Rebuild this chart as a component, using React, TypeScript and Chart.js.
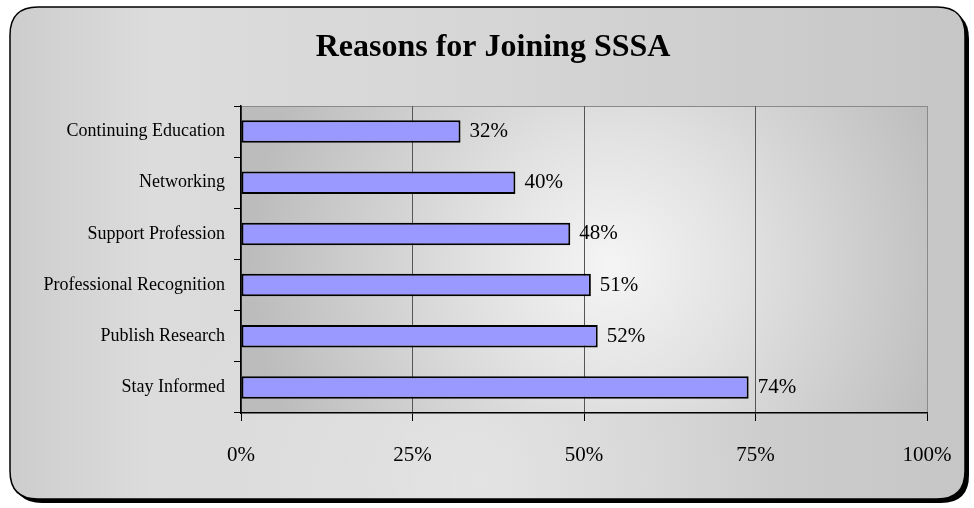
import React, { useEffect, useRef } from "react";
import { Chart, registerables } from "chart.js";

Chart.register(...registerables);

const TITLE = "Reasons for Joining SSSA";
const categories = [
  "Continuing Education",
  "Networking",
  "Support Profession",
  "Professional Recognition",
  "Publish Research",
  "Stay Informed",
];
const values = [32, 40, 48, 51, 52, 74];
const xTicks = [0, 25, 50, 75, 100];

const W = 974;
const H = 508;

function roundRect(ctx: CanvasRenderingContext2D, x: number, y: number, w: number, h: number, r: number) {
  ctx.beginPath();
  ctx.moveTo(x + r, y);
  ctx.lineTo(x + w - r, y);
  ctx.quadraticCurveTo(x + w, y, x + w, y + r);
  ctx.lineTo(x + w, y + h - r);
  ctx.quadraticCurveTo(x + w, y + h, x + w - r, y + h);
  ctx.lineTo(x + r, y + h);
  ctx.quadraticCurveTo(x, y + h, x, y + h - r);
  ctx.lineTo(x, y + r);
  ctx.quadraticCurveTo(x, y, x + r, y);
  ctx.closePath();
}

const backgroundPlugin = {
  id: "bgPlugin",
  beforeDraw(chart: any) {
    const ctx: CanvasRenderingContext2D = chart.ctx;
    const ca = chart.chartArea;
    ctx.save();
    ctx.fillStyle = "#ffffff";
    ctx.fillRect(0, 0, W, H);
    // shadow
    roundRect(ctx, 14, 11, 955, 492, 28);
    ctx.fillStyle = "#000000";
    ctx.fill();
    // outer box
    roundRect(ctx, 10, 7, 955, 492, 28);
    const g = ctx.createLinearGradient(10, 0, 965, 0);
    g.addColorStop(0, "#cdcdcd");
    g.addColorStop(0.15, "#dcdcdc");
    g.addColorStop(0.5, "#d6d6d6");
    g.addColorStop(1, "#c6c6c6");
    ctx.fillStyle = g;
    ctx.fill();
    const g2 = ctx.createRadialGradient(480, 480, 10, 480, 480, 300);
    g2.addColorStop(0, "rgba(235,235,235,0.6)");
    g2.addColorStop(1, "rgba(235,235,235,0)");
    ctx.fillStyle = g2;
    ctx.fill();
    ctx.lineWidth = 1.5;
    ctx.strokeStyle = "#000000";
    ctx.stroke();
    // plot area
    const pg = ctx.createRadialGradient(610, 265, 5, 610, 265, 360);
    pg.addColorStop(0, "#f4f4f4");
    pg.addColorStop(0.35, "#e2e2e2");
    pg.addColorStop(1, "#bcbcbc");
    ctx.fillStyle = pg;
    ctx.fillRect(ca.left, ca.top, ca.right - ca.left, ca.bottom - ca.top);
    ctx.strokeStyle = "#8a8a8a";
    ctx.lineWidth = 1;
    ctx.beginPath();
    ctx.moveTo(ca.left, ca.top + 0.5);
    ctx.lineTo(ca.right + 0.5, ca.top + 0.5);
    ctx.lineTo(ca.right + 0.5, ca.bottom);
    ctx.stroke();
    // title
    ctx.font = 'bold 32px "Liberation Serif"';
    ctx.fillStyle = "#000000";
    ctx.textAlign = "center";
    ctx.textBaseline = "alphabetic";
    ctx.fillText(TITLE, 493, 56);
    ctx.restore();
  },
  afterDatasetsDraw(chart: any) {
    const ctx: CanvasRenderingContext2D = chart.ctx;
    const meta = chart.getDatasetMeta(0);
    ctx.save();
    ctx.font = '21px "Liberation Serif"';
    ctx.fillStyle = "#000000";
    ctx.textAlign = "left";
    ctx.textBaseline = "middle";
    meta.data.forEach((bar: any, i: number) => {
      ctx.fillText(values[i] + "%", bar.x + 9, bar.y);
    });
    ctx.restore();
  },
};

export default function App() {
  const ref = useRef<HTMLCanvasElement | null>(null);
  useEffect(() => {
    if (!ref.current) return;
    const chart = new Chart(ref.current, {
      type: "bar",
      data: {
        labels: categories,
        datasets: [
          {
            data: values,
            backgroundColor: "#9999ff",
            borderColor: "#000000",
            borderWidth: 2,
            borderSkipped: false,
            categoryPercentage: 1,
            barPercentage: 0.44,
          },
        ],
      },
      plugins: [backgroundPlugin],
      options: {
        indexAxis: "y",
        responsive: false,
        animation: false,
        layout: { padding: { left: 0, right: 47, top: 106, bottom: 0 } },
        plugins: {
          legend: { display: false },
          tooltip: { enabled: false },
          title: { display: false },
        },
        scales: {
          x: {
            min: 0,
            max: 100,
            afterBuildTicks: (scale: any) => {
              scale.ticks = xTicks.map((v) => ({ value: v }));
            },
            afterFit: (scale: any) => {
              scale.height = 95;
            },
            ticks: {
              color: "#000000",
              font: { family: '"Liberation Serif"', size: 21 },
              padding: 22,
              callback: (v: any) => v + "%",
              maxRotation: 0,
            },
            grid: {
              color: (c: any) => (c.index === 4 ? "#8a8a8a" : "#555555"),
              tickColor: "#000000",
              tickLength: 8,
              lineWidth: 1,
            },
            border: { color: "#000000", width: 1.5 },
          },
          y: {
            afterFit: (scale: any) => {
              scale.width = 241;
            },
            ticks: {
              color: "#000000",
              font: { family: '"Liberation Serif"', size: 18 },
              padding: 9,
            },
            grid: {
              offset: true,
              drawOnChartArea: false,
              tickColor: "#000000",
              tickLength: 7,
              lineWidth: 1,
            },
            border: { color: "#000000", width: 1.5 },
          },
        },
      },
    } as any);
    return () => chart.destroy();
  }, []);
  return (
    <div style={{ position: "fixed", left: 0, top: 0, width: W, height: H }}>
      <canvas ref={ref} width={W} height={H} style={{ width: W, height: H, display: "block" }} />
    </div>
  );
}
